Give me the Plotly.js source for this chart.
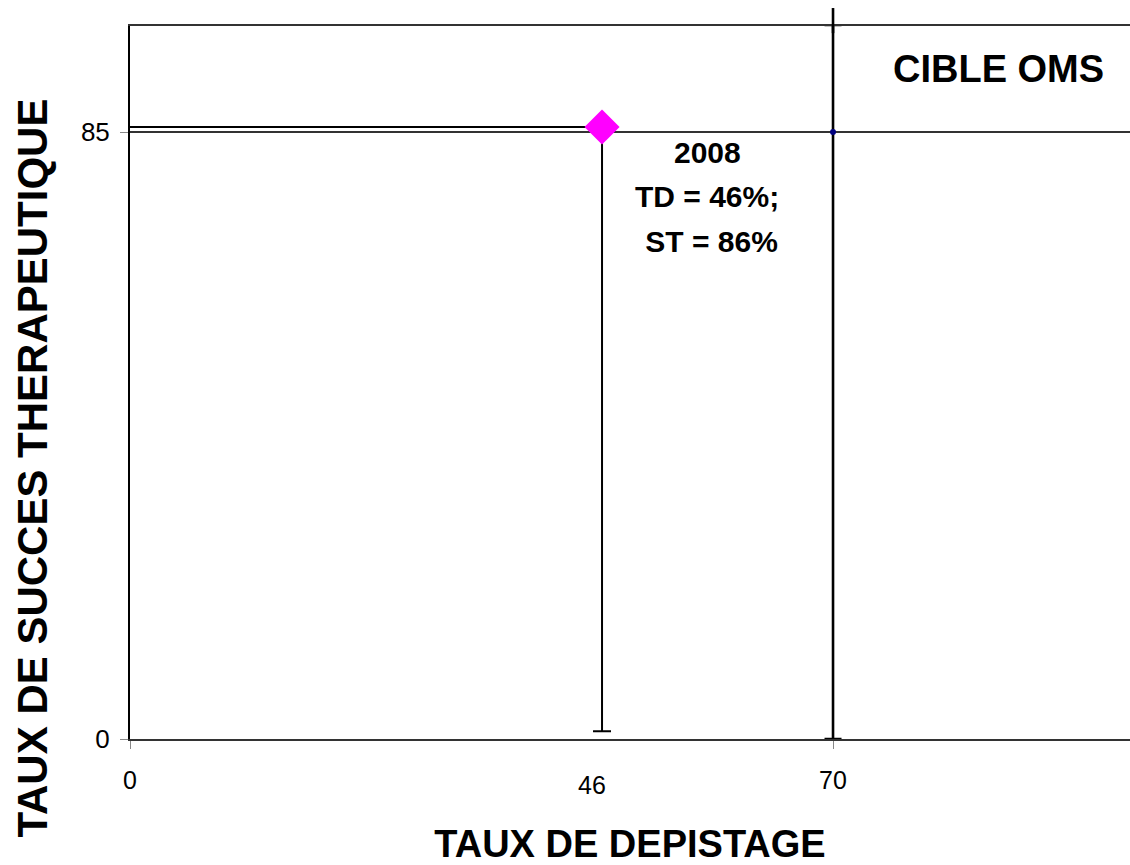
<!DOCTYPE html>
<html>
<head>
<meta charset="utf-8">
<script src="https://cdn.plot.ly/plotly-3.0.1.min.js"></script>
<style>html,body{margin:0;padding:0;background:#fff;}#chart{width:1130px;height:865px;}</style>
</head>
<body>
<div id="chart"></div>
<script>
// Data
const pointYear = '2008';
const detectionRate = [47];        // TD, x position of the 2008 point
const successRate = [85.7];        // ST, y position of the 2008 point
const pointDropToAxis = [84.6];    // vertical drop line length (down to ~1)
const pointLeftLine = [48.6];      // horizontal line back to the y axis
const targetDetection = [70];      // WHO target detection rate
const targetSuccess = [85];        // WHO target success rate
const targetLineDown = [85];       // vertical target line, down to 0
const targetLineUp = [15];         // vertical target line, up to the frame
const xTickVals = [0, 70];
const yTickVals = [0, 85];
const extraXTickLabel = '46';
const extraXTickValue = 46;
const pointLabelLines = ['2008', 'TD = 46%;', '\u00a0ST = 86%'];
const targetLabel = 'CIBLE OMS';

const FONT = 'Liberation Sans, Arial, sans-serif';

const traces = [
  {
    type: 'scatter', mode: 'markers', name: 'Cible OMS',
    x: targetDetection, y: targetSuccess, cliponaxis: false,
    marker: {symbol: 'circle', size: 6, color: '#000080'},
    error_y: {type: 'data', symmetric: false, array: targetLineUp, arrayminus: targetLineDown,
              color: '#000000', thickness: 2.6, width: 8.5},
    showlegend: false, hoverinfo: 'x+y'
  },
  {
    type: 'scatter', mode: 'markers', name: pointYear,
    x: detectionRate, y: successRate, cliponaxis: false,
    marker: {symbol: 'diamond', size: 27, color: '#FF00FF', line: {width: 0}},
    error_y: {type: 'data', symmetric: false, array: [0], arrayminus: pointDropToAxis,
              color: '#000000', thickness: 2, width: 9},
    error_x: {type: 'data', symmetric: false, array: [0], arrayminus: pointLeftLine,
              color: '#000000', thickness: 2, width: 0},
    showlegend: false, hoverinfo: 'x+y'
  }
];

const annotations = [
  {x: extraXTickValue, y: 0, xref: 'x', yref: 'y', text: extraXTickLabel, showarrow: false,
   xanchor: 'center', yanchor: 'middle',
   yshift: -46, font: {family: FONT, size: 25, color: '#000'}},
  {x: 0.5, y: 0.5, xref: 'paper', yref: 'paper', xanchor: 'center', yanchor: 'middle',
   text: 'TAUX DE SUCCES THERAPEUTIQUE', textangle: -90, showarrow: false,
   xshift: -598, yshift: -86, font: {family: FONT, size: 42, color: '#000', weight: 'bold'}},
  {x: 0.868, y: 0.94, xref: 'paper', yref: 'paper', xanchor: 'center', yanchor: 'middle',
   text: '<b>' + targetLabel + '</b>',
   showarrow: false, font: {family: FONT, size: 38, color: '#000'}}
];
pointLabelLines.forEach(function (line, i) {
  annotations.push({
    x: detectionRate[0], y: successRate[0], xref: 'x', yref: 'y',
    text: '<b>' + line + '</b>', showarrow: false, xanchor: 'center', yanchor: 'middle',
    xshift: 105, yshift: -25 - 44.5 * i,
    font: {family: FONT, size: 30, color: '#000'}
  });
});

// part of the target line that pokes out above the frame
const shapes = [
  {type: 'line', xref: 'x', yref: 'paper', x0: targetDetection[0], x1: targetDetection[0],
   y0: 0.99, y1: 1.0252, line: {color: '#000', width: 2.6}}
];

const layout = {
  width: 1130, height: 865,
  margin: {l: 130, r: 0, t: 26, b: 126, pad: 0},
  paper_bgcolor: '#ffffff', plot_bgcolor: '#ffffff',
  showlegend: false,
  font: {family: FONT, color: '#000'},
  xaxis: {
    range: [0, 99.57], tickvals: xTickVals, ticktext: xTickVals.map(String),
    showgrid: false, zeroline: false,
    showline: true, mirror: true, linecolor: '#333', linewidth: 1.6,
    ticks: 'outside', ticklen: 8, tickwidth: 1, tickcolor: '#888',
    ticklabelstandoff: 10,
    tickfont: {family: FONT, size: 25, color: '#000'},
    title: {text: 'TAUX DE DEPISTAGE', standoff: 42,
            font: {family: FONT, size: 38, color: '#000', weight: 'bold'}},
    fixedrange: true
  },
  yaxis: {
    range: [0, 99.85], tickvals: yTickVals, ticktext: yTickVals.map(String),
    showgrid: true, gridcolor: '#333', gridwidth: 1.4, zeroline: false,
    showline: true, mirror: false, linecolor: '#000', linewidth: 2,
    ticks: 'outside', ticklen: 8, tickwidth: 1, tickcolor: '#888',
    ticklabelstandoff: 5,
    tickfont: {family: FONT, size: 26, color: '#000'},
    fixedrange: true
  },
  shapes: shapes,
  annotations: annotations
};

Plotly.newPlot('chart', traces, layout, {displayModeBar: false, staticPlot: true});
</script>
</body>
</html>
